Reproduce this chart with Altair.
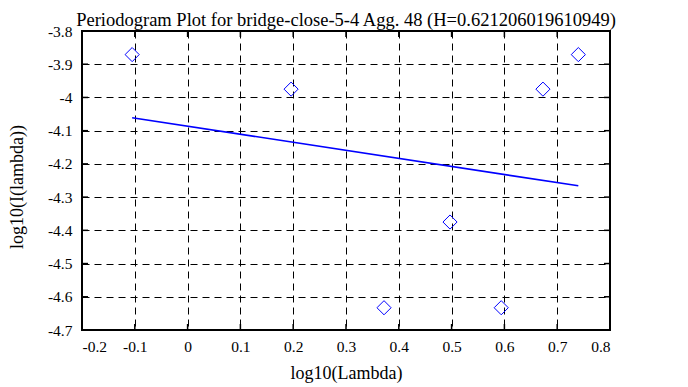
import altair as alt
import pandas as pd

# Data
log_lambda = [-0.105, 0.196, 0.372, 0.497, 0.594, 0.673, 0.740]
log_I = [-3.871, -3.975, -4.633, -4.375, -4.633, -3.975, -3.871]
fit_x = [-0.105, 0.740]
fit_y = [-4.061, -4.266]
x_ticks = [-0.2, -0.1, 0.0, 0.1, 0.2, 0.3, 0.4, 0.5, 0.6, 0.7, 0.8]
y_ticks = [-3.8, -3.9, -4.0, -4.1, -4.2, -4.3, -4.4, -4.5, -4.6, -4.7]
title_text = "Periodogram Plot for bridge-close-5-4 Agg. 48 (H=0.621206019610949)"

W, H = 528, 299
FONT = "Liberation Serif"
TICK_LEN = 6

pts = pd.DataFrame({"x": log_lambda, "y": log_I})
fit = pd.DataFrame({"x": fit_x, "y": fit_y})
xt = pd.DataFrame({"x": x_ticks})
yt = pd.DataFrame({"y": y_ticks})

xs = alt.Scale(domain=[x_ticks[0], x_ticks[-1]], nice=False, zero=False)
ys = alt.Scale(domain=[y_ticks[-1], y_ticks[0]], nice=False, zero=False)

label_expr = "'' + round(datum.value * 10) / 10"

x_axis = alt.Axis(
    values=x_ticks, labelExpr=label_expr, title="log10(Lambda)",
    grid=True, gridColor="black", gridDash=[7, 5], gridWidth=1, gridOpacity=1,
    ticks=False, domain=False, labelFont=FONT, labelFontSize=15.5, labelColor="black",
    labelPadding=9, titleFont=FONT, titleFontSize=18, titleFontWeight="normal",
    titleColor="black", titlePadding=10,
)
y_axis = alt.Axis(
    values=y_ticks, labelExpr=label_expr, title="log10(I(lambda))",
    grid=True, gridColor="black", gridDash=[7, 5], gridWidth=1, gridOpacity=1,
    ticks=False, domain=False, labelFont=FONT, labelFontSize=15.5, labelColor="black",
    labelPadding=10, titleFont=FONT, titleFontSize=18, titleFontWeight="normal",
    titleColor="black", titleX=-65, titleY=H / 2 + 6, titleBaseline="middle",
)

X = alt.X("x:Q", scale=xs, axis=x_axis)
Y = alt.Y("y:Q", scale=ys, axis=y_axis)

points = alt.Chart(pts).mark_point(
    shape="diamond", size=200, filled=False, color="blue", strokeWidth=1, opacity=1
).encode(x=X, y=Y)

line = alt.Chart(fit).mark_line(color="blue", strokeWidth=1.6).encode(x=X, y=Y)

tick_style = dict(color="black", strokeWidth=1.5)
x_top = alt.Chart(xt).mark_rule(**tick_style).encode(
    x=X, y=alt.value(0), y2=alt.value(TICK_LEN))
x_bot = alt.Chart(xt).mark_rule(**tick_style).encode(
    x=X, y=alt.value(H - TICK_LEN), y2=alt.value(H))
y_left = alt.Chart(yt).mark_rule(**tick_style).encode(
    y=Y, x=alt.value(0), x2=alt.value(TICK_LEN))
y_right = alt.Chart(yt).mark_rule(**tick_style).encode(
    y=Y, x=alt.value(W - TICK_LEN), x2=alt.value(W))

chart = alt.layer(points, line, x_top, x_bot, y_left, y_right).properties(
    width=W, height=H,
    background="white",
    title=alt.TitleParams(
        title_text, font=FONT, fontSize=18.5, fontWeight="normal", color="black",
        anchor="middle", offset=4, dy=9.5,
    ),
    autosize=alt.AutoSizeParams(type="none"),
    padding={"left": 74, "top": 23, "right": 70, "bottom": 56},
).configure_view(stroke="black", strokeWidth=2)

chart.save("out.html", embed_options={"renderer": "svg", "actions": False})
